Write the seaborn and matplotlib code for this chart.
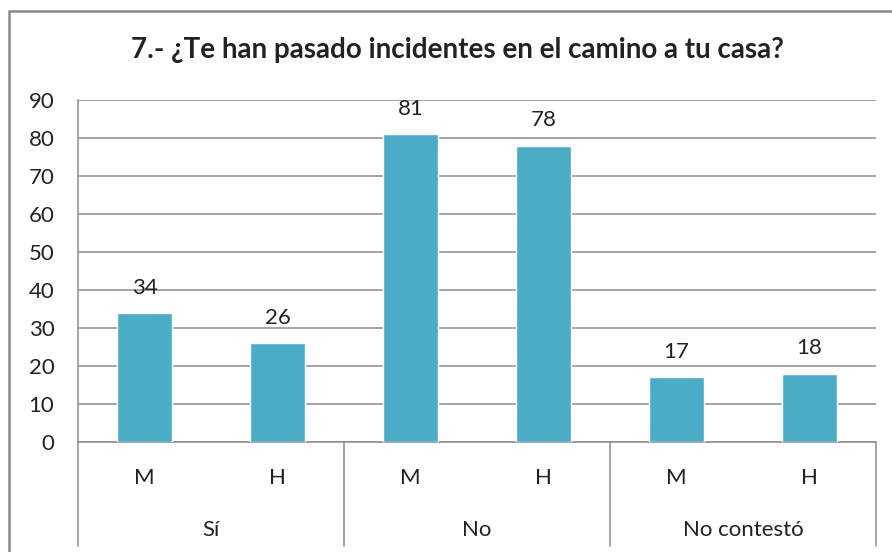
import matplotlib
matplotlib.use("Agg")
import matplotlib.pyplot as plt
import matplotlib.transforms as mtransforms
from matplotlib.patches import Rectangle
import seaborn as sns
import pandas as pd

# ---- data ----
title = "7.- ¿Te han pasado incidentes en el camino a tu casa?"
groups = ["Sí", "No", "No contestó"]
sexes = ["M", "H"]
values = [34, 26, 81, 78, 17, 18]
yticks = [0, 10, 20, 30, 40, 50, 60, 70, 80, 90]

keys = [f"{g}-{s}" for g in groups for s in sexes]
df = pd.DataFrame({"key": keys, "value": values})

sns.set_theme(style="white")
plt.rcParams["font.family"] = ["Lato", "DejaVu Sans"]

BAR = "#4BACC6"
GRID = "#8c8c8c"
TXT = "#222222"
FS = 16

fig = plt.figure(figsize=(8.92, 5.52), dpi=100)
ax = fig.add_axes([78/892, 1-442/552, (876-78)/892, (442-100)/552])

sns.barplot(data=df, x="key", y="value", order=keys, color=BAR,
            saturation=1, width=0.41, ax=ax, zorder=3)

ax.set_ylim(0, 90)
ax.set_xlim(-0.5, len(keys) - 0.5)
ax.set_yticks(yticks)
ax.set_yticklabels([str(t) for t in yticks], fontsize=FS, color=TXT)
ax.tick_params(axis="y", length=0, pad=17)
ax.set_xticks([])
ax.set_xlabel("")
ax.set_ylabel("")
ax.yaxis.grid(True, color=GRID, linewidth=1.1, zorder=0)
ax.set_axisbelow(True)
for side in ["top", "right"]:
    ax.spines[side].set_visible(False)
ax.spines["left"].set_color(GRID)
ax.spines["left"].set_linewidth(1.1)
ax.spines["bottom"].set_color(GRID)
ax.spines["bottom"].set_linewidth(1.1)

# value labels
for cont in ax.containers:
    ax.bar_label(cont, labels=[str(v) for v in values], padding=11,
                 fontsize=FS, color=TXT)

# multi-level category axis
trans = mtransforms.blended_transform_factory(ax.transData, ax.transAxes)
for i, k in enumerate(keys):
    ax.text(i, -0.105, k.split("-")[1], transform=trans, ha="center",
            va="center", fontsize=FS, color=TXT, clip_on=False)
for gi, g in enumerate(groups):
    ax.text(gi * 2 + 0.5, -0.257, g, transform=trans, ha="center",
            va="center", fontsize=FS, color=TXT, clip_on=False)
for b in [-0.5, 1.5, 3.5, 5.5]:
    ax.plot([b, b], [0, -0.304], transform=trans, color=GRID,
            linewidth=1.1, clip_on=False)

# title
fig.text(457/892, 1-50/552, title, ha="center", va="center",
         fontsize=20, fontweight="bold", color=TXT)

# chart border
fig.patches.append(Rectangle((9/892, -0.1), 1.2, 1-11/552+0.1,
                             transform=fig.transFigure, fill=False,
                             edgecolor="#8a8a8a", linewidth=1.8))

fig.savefig("out.png", dpi=100)
